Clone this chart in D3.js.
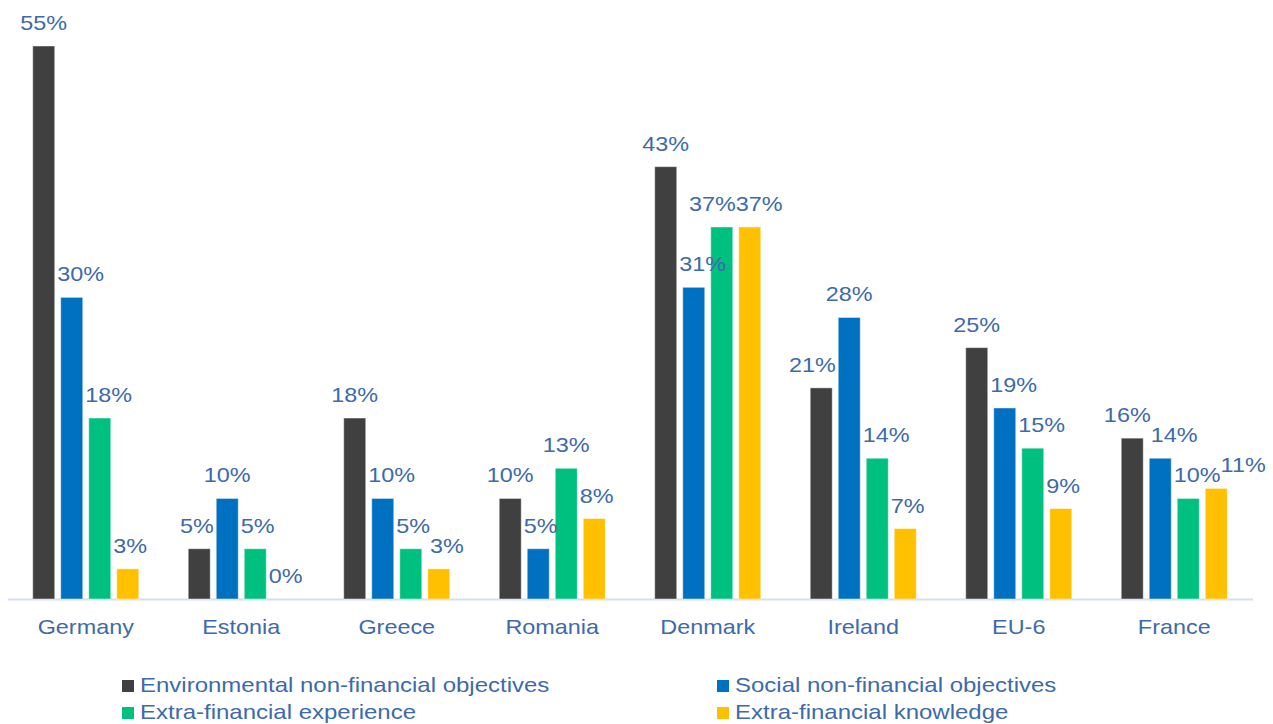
<!DOCTYPE html>
<html>
<head>
<meta charset="utf-8">
<script src="https://cdn.jsdelivr.net/npm/d3@7"></script>
<style>
  html, body { margin: 0; padding: 0; background: #fff; }
  svg { display: block; }
  text { font-family: "Liberation Sans", Arial, sans-serif; }
</style>
</head>
<body>
<svg id="chart" width="1273" height="724"></svg>
<script>
// Countries along the horizontal axis
const countries = ["Germany", "Estonia", "Greece", "Romania", "Denmark", "Ireland", "EU-6", "France"];

// Series names, in legend / bar order
const seriesNames = [
  "Environmental non-financial objectives",
  "Social non-financial objectives",
  "Extra-financial experience",
  "Extra-financial knowledge"
];

// Share (%) per country for each series
const environmental = [55, 5, 18, 10, 43, 21, 25, 16];
const social        = [30, 10, 10, 5, 31, 28, 19, 14];
const experience    = [18, 5, 5, 13, 37, 14, 15, 10];
const knowledge     = [3, 0, 3, 8, 37, 7, 9, 11];

const seriesValues = [environmental, social, experience, knowledge];
const seriesColors = ["#404040", "#0070C0", "#00C07F", "#FFC000"];

const textColor = "#3D6AAA";
const stretch = 1.17;        // horizontal stretch of chart text glyphs
const legendStretch = 1.2;   // horizontal stretch of legend text glyphs
const labelGap = 2.5;        // clearance kept between a value label and a neighbouring bar

const svg = d3.select("#chart");

const x0 = d3.scaleBand()
  .domain(countries)
  .range([8, 1252])
  .paddingInner(0.318)
  .paddingOuter(0.159);

const x1 = d3.scaleBand()
  .domain(seriesNames)
  .range([0, x0.bandwidth()])
  .paddingInner(6 / 28);

const y = d3.scaleLinear()
  .domain([0, 55])
  .range([599, 46]);

// Flatten to one record per bar
const bars = [];
countries.forEach((c, i) => {
  seriesNames.forEach((s, j) => {
    bars.push({ country: c, series: s, value: seriesValues[j][i], color: seriesColors[j] });
  });
});

// Axis baseline
const xAxis = d3.axisBottom(x0).tickSize(0).tickPadding(0).tickFormat("");
const axisG = svg.append("g")
  .attr("transform", `translate(0,${y(0)})`)
  .call(xAxis);
axisG.select(".domain")
  .attr("d", "M8,0.5H1253")
  .attr("stroke", "#D5DFEE")
  .attr("stroke-width", 2);

// Bars
svg.append("g")
  .selectAll("rect")
  .data(bars)
  .join("rect")
  .attr("x", d => x0(d.country) + x1(d.series))
  .attr("y", d => y(d.value))
  .attr("width", x1.bandwidth())
  .attr("height", d => y(0) - y(d.value))
  .attr("fill", d => d.color)
  .attr("stroke", "#ffffff")
  .attr("stroke-opacity", 0.45)
  .attr("stroke-width", 1);

// Value labels above the bars
const labels = svg.append("g")
  .selectAll("text")
  .data(bars)
  .join("text")
  .attr("text-anchor", "middle")
  .attr("font-size", 20)
  .attr("fill", textColor)
  .text(d => d.value + "%");

labels.each(function (d) { d.w = this.getComputedTextLength() * stretch; });

// Nudge labels sideways so they clear taller neighbouring bars and each other
countries.forEach(c => {
  const group = bars.filter(b => b.country === c);
  group.forEach((b, j) => {
    b.cx = x0(c) + x1(b.series) + x1.bandwidth() / 2;
    b.base = y(b.value) - 16;
    b.top = b.base - 19;
    b.bottom = b.base + 5;
    b.shifted = false;
    const left = group[j - 1], right = group[j + 1];
    if (left && y(left.value) < b.bottom) {
      const edge = x0(c) + x1(left.series) + x1.bandwidth();
      if (b.cx - b.w / 2 < edge + labelGap) {
        b.cx = edge + labelGap + b.w / 2;
        b.shifted = true;
      }
    }
    if (!b.shifted && right && y(right.value) < b.bottom) {
      const edge = x0(c) + x1(right.series);
      if (b.cx + b.w / 2 > edge - labelGap) {
        b.cx = edge - labelGap - b.w / 2;
        b.shifted = true;
      }
    }
    if (left && left.bottom > b.top && b.bottom > left.top) {
      const overlap = (left.cx + left.w / 2) - (b.cx - b.w / 2);
      if (overlap > 0) {
        if (!left.shifted) {
          left.cx -= overlap / 2;
          b.cx += overlap / 2;
        } else {
          b.cx += overlap;
        }
        b.shifted = true;
      }
    }
  });
});

labels.attr("transform", d => `translate(${d.cx},${d.base}) scale(${stretch},1)`);

// Category labels
svg.append("g")
  .selectAll("text")
  .data(countries)
  .join("text")
  .attr("transform", d => `translate(${x0(d) + x0.bandwidth() / 2},634) scale(${stretch},1)`)
  .attr("text-anchor", "middle")
  .attr("font-size", 20)
  .attr("fill", textColor)
  .text(d => d);

// Legend: two columns, two rows
const legendPos = [
  { x: 122, y: 692 },
  { x: 717, y: 692 },
  { x: 122, y: 719 },
  { x: 717, y: 719 }
];
const legend = svg.append("g")
  .selectAll("g")
  .data(seriesNames)
  .join("g")
  .attr("transform", (d, i) => `translate(${legendPos[i].x},${legendPos[i].y})`);

legend.append("rect")
  .attr("x", 0)
  .attr("y", -12)
  .attr("width", 12)
  .attr("height", 12)
  .attr("fill", (d, i) => seriesColors[i]);

legend.append("text")
  .attr("transform", `translate(18,0) scale(${legendStretch},1)`)
  .attr("font-size", 20)
  .attr("fill", textColor)
  .text(d => d);
</script>
</body>
</html>
